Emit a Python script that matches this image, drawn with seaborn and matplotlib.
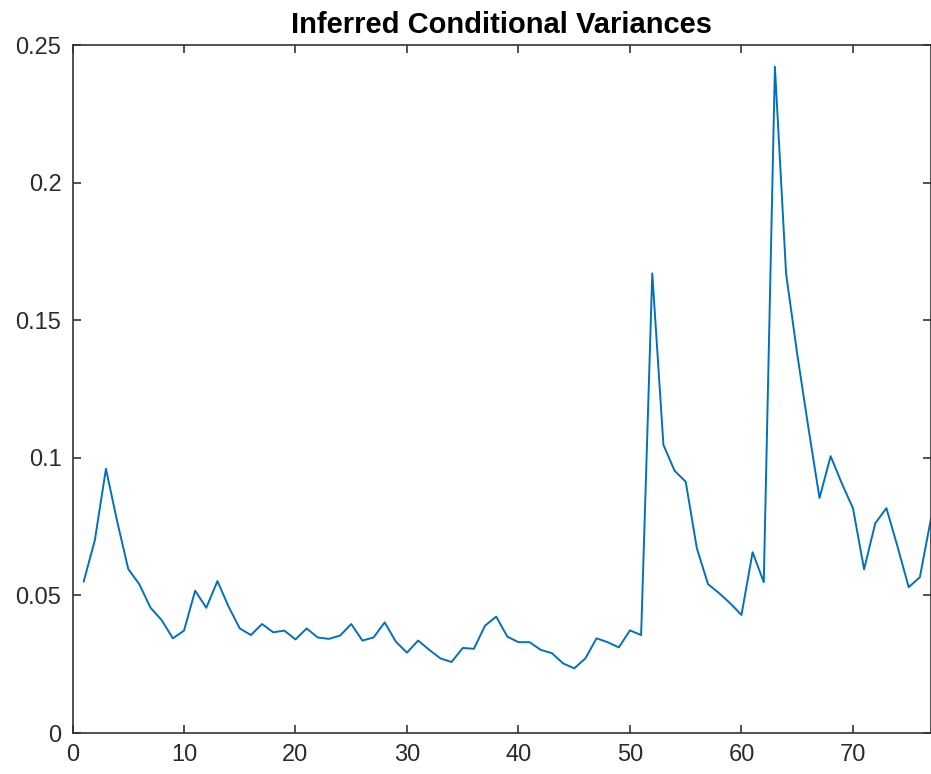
import numpy as np
import pandas as pd
import matplotlib
matplotlib.use("Agg")
import matplotlib.pyplot as plt
import seaborn as sns

# Data
time_index = list(range(1, 78))
cond_variance = [
    0.055, 0.070, 0.096, 0.077, 0.0596, 0.054, 0.0455, 0.041, 0.0344, 0.0372,
    0.0517, 0.0455, 0.0552, 0.0459, 0.038, 0.0356, 0.0396, 0.0366, 0.0372, 0.034,
    0.038, 0.0347, 0.0342, 0.0354, 0.0396, 0.0336, 0.0347, 0.0402, 0.0332, 0.0292,
    0.0336, 0.0302, 0.0271, 0.0258, 0.0309, 0.0306, 0.039, 0.0423, 0.035, 0.033,
    0.033, 0.0302, 0.029, 0.0253, 0.0235, 0.0271, 0.0344, 0.033, 0.0311, 0.0373,
    0.0356, 0.167, 0.1047, 0.0953, 0.0913, 0.0671, 0.0541, 0.0508, 0.0471, 0.0429,
    0.0657, 0.0548, 0.2421, 0.167, 0.1377, 0.111, 0.0854, 0.1006, 0.0907, 0.0817,
    0.0595, 0.0762, 0.0817, 0.0677, 0.053, 0.0566, 0.078,
]
x_ticks = [0, 10, 20, 30, 40, 50, 60, 70]
y_ticks = [0, 0.05, 0.1, 0.15, 0.2, 0.25]
y_tick_labels = ["0", "0.05", "0.1", "0.15", "0.2", "0.25"]
title = "Inferred Conditional Variances"

df = pd.DataFrame({"t": time_index, "v": cond_variance})

sns.set_theme(style="white")
plt.rcParams["font.family"] = ["Liberation Sans", "DejaVu Sans"]

W, H = 931, 774
fig = plt.figure(figsize=(W / 100, H / 100), dpi=100)
ax = fig.add_axes([72.5 / W, 1 - 733 / H, (W - 72.5) / W, (733 - 45) / H])

sns.lineplot(data=df, x="t", y="v", ax=ax, color="#0072BD", linewidth=1.4)

ax.set_xlim(0, 77)
ax.set_ylim(0, 0.25)
ax.set_xticks(x_ticks)
ax.set_yticks(y_ticks)
ax.set_yticklabels(y_tick_labels)
ax.set_xlabel("")
ax.set_ylabel("")

axis_col = "#333333"
for s in ax.spines.values():
    s.set_visible(True)
    s.set_color(axis_col)
    s.set_linewidth(1.2)
ax.tick_params(axis="both", which="both", direction="in", length=6, width=1.2,
               colors=axis_col, labelcolor="#2b2b2b", labelsize=17,
               top=True, right=True, bottom=True, left=True,
               labeltop=False, labelright=False)
ax.tick_params(axis="x", pad=8)
ax.tick_params(axis="y", pad=8)

ax.set_title(title, fontsize=21, fontweight="bold", color="#000000", pad=9)

fig.savefig("out.png", dpi=100)
